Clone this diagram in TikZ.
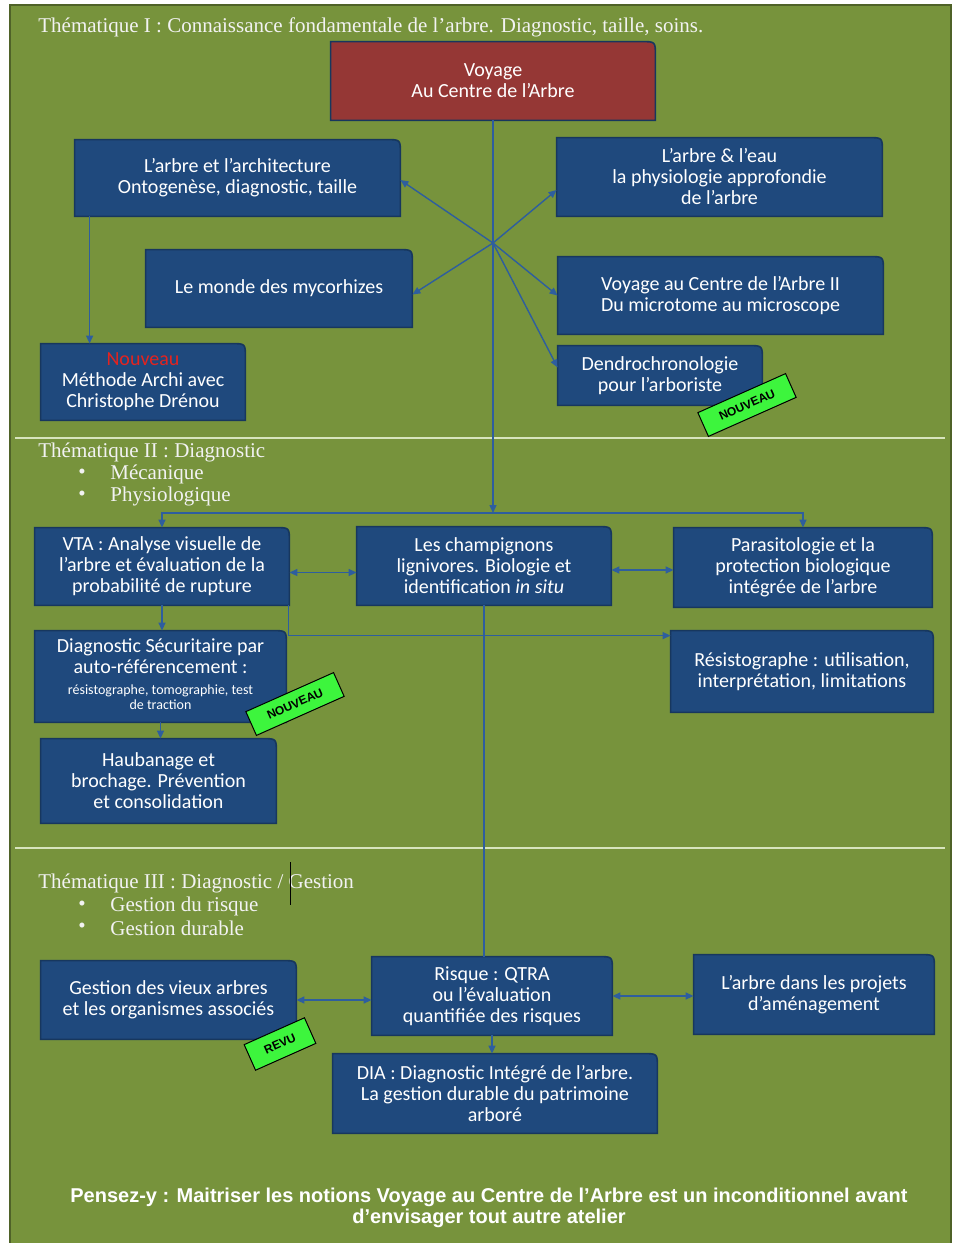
\documentclass[tikz,border=0pt]{standalone}
\usepackage{fontspec}
\setmainfont{Liberation Serif}
\newfontfamily\boxfont{Carlito}
\newfontfamily\footfont{Liberation Sans}
\usetikzlibrary{arrows.meta,backgrounds}
\definecolor{fondvert}{HTML}{77933C}
\definecolor{bordvert}{HTML}{4F6228}
\definecolor{boxbleu}{HTML}{1F497D}
\definecolor{boxrouge}{HTML}{953735}
\definecolor{boxbord}{HTML}{17375E}
\definecolor{fleche}{HTML}{2E5E9E}
\definecolor{sepvert}{HTML}{D7E4BD}
\definecolor{vertfluo}{HTML}{3DF53D}
\definecolor{rougenouv}{HTML}{E3231F}
\tikzset{
  atelier/.style={text=white, align=center, inner sep=2pt,
    font=\boxfont\fontsize{10}{10.5}\selectfont},
  tampon/.style={draw=black, fill=vertfluo, line width=0.5pt, rotate=24,
    font=\footfont\bfseries\fontsize{6}{6.5}\selectfont, inner sep=1pt},
  lien/.style={draw=fleche, line width=0.7pt},
  fl/.style={lien, -{Triangle[length=4pt,width=3.5pt]}},
  dfl/.style={lien, {Triangle[length=4pt,width=3.5pt]}-{Triangle[length=4pt,width=3.5pt]}},
  theme/.style={anchor=west, text=white!95!black, inner sep=0pt,
    font=\fontsize{10.5}{12}\selectfont},
  sep/.style={draw=sepvert, line width=0.8pt}
}
\begin{document}
\begin{tikzpicture}[x=0.5pt,y=-0.5pt]
  \useasboundingbox (0,0) rectangle (954,1243);
  %% Thematique I
  \node[theme] (themeA) at (38,27) {Thématique I : Connaissance fondamentale de l’arbre. Diagnostic, taille, soins.};
  \node[atelier, minimum width=162pt, minimum height=39pt] (voyage) at (493,81) {Voyage\\Au Centre de l’Arbre};
  \node[atelier, minimum width=162.5pt, minimum height=38pt] (archi) at (237.5,178) {L’arbre et l’architecture\\Ontogenèse, diagnostic, taille};
  \node[atelier, minimum width=162.5pt, minimum height=39pt] (eau) at (719.5,177) {L’arbre \& l’eau\\la physiologie approfondie\\de l’arbre};
  \node[atelier, minimum width=133pt, minimum height=38.5pt] (myco) at (279,288.5) {Le monde des mycorhizes};
  \node[atelier, minimum width=162.5pt, minimum height=38.5pt] (voyagedeux) at (720.5,295.5) {Voyage au Centre de l’Arbre II\\Du microtome au microscope};
  \node[atelier, minimum width=102pt, minimum height=38pt] (archinew) at (143,382) {\textcolor{rougenouv}{Nouveau}\\Méthode Archi avec\\Christophe Drénou};
  \node[atelier, minimum width=102pt, minimum height=29.5pt] (dendro) at (660,375.5) {Dendrochronologie\\pour l’arboriste};
  \coordinate (hub) at (voyage.south |- 0,243);
  %% Thematique II
  \draw[sep] (15,438) -- (945,438);
  \node[theme] (themeB) at (38,452) {Thématique II : Diagnostic};
  \node[theme] (puceB1) at (78,474) {•};
  \node[theme] (itemB1) at (110,474) {Mécanique};
  \node[theme] (puceB2) at (78,496) {•};
  \node[theme] (itemB2) at (110,496) {Physiologique};
  \node[atelier, minimum width=127pt, minimum height=38.5pt] (vta) at (162,566.5) {VTA : Analyse visuelle de\\l’arbre et évaluation de la\\probabilité de rupture};
  \node[atelier, minimum width=127pt, minimum height=39pt] (champ) at (484,566) {Les champignons\\lignivores. Biologie et\\identification \textit{in situ}};
  \node[atelier, minimum width=129pt, minimum height=39.5pt] (parasito) at (803,567.5) {Parasitologie et la\\protection biologique\\intégrée de l’arbre};
  \node[atelier, minimum width=125.5pt, minimum height=45.5pt] (securit) at (160.5,676.5) {Diagnostic Sécuritaire par\\auto-référencement :\\{\fontsize{7}{7.5}\selectfont\begin{tabular}[t]{@{}c@{}}résistographe, tomographie, test\\de traction\end{tabular}}};
  \node[atelier, minimum width=117.5pt, minimum height=42pt] (hauban) at (158.5,781) {Haubanage et\\brochage. Prévention\\et consolidation};
  \node[atelier, minimum width=131pt, minimum height=40.5pt] (resisto) at (802,671.5) {Résistographe : utilisation,\\interprétation, limitations};
  \coordinate (split) at (voyage.south |- 0,513);
  %% Thematique III
  \draw[sep] (15,848) -- (945,848);
  \node[theme] (themeC) at (38,883) {Thématique III : Diagnostic / Gestion};
  \draw[black, line width=0.4pt] (290,862) -- (290,905);
  \node[theme] (puceC1) at (78,906) {•};
  \node[theme] (itemC1) at (110,906) {Gestion du risque};
  \node[theme] (puceC2) at (78,928) {•};
  \node[theme] (itemC2) at (110,928) {Gestion durable};
  \node[atelier, minimum width=127.5pt, minimum height=39pt] (vieux) at (168.5,1000) {Gestion des vieux arbres\\et les organismes associés};
  \node[atelier, minimum width=120pt, minimum height=39pt] (risque) at (492,996) {Risque : QTRA\\ou l’évaluation\\quantifiée des risques};
  \node[atelier, minimum width=120pt, minimum height=39.5pt] (projets) at (814,994.5) {L’arbre dans les projets\\d’aménagement};
  \node[atelier, minimum width=162pt, minimum height=39.5pt] (dia) at (495,1093.5) {DIA : Diagnostic Intégré de l’arbre.\\La gestion durable du patrimoine\\arboré};
  %% pied de page
  \node[text=white, align=center, font=\footfont\bfseries\fontsize{10}{10.5}\selectfont] (pensez) at (489,1207.5) {Pensez-y : Maitriser les notions Voyage au Centre de l’Arbre est un inconditionnel avant\\d’envisager tout autre atelier};
  %% fond et cadres
  \begin{scope}[on background layer]
    \filldraw[fill=fondvert, draw=bordvert, line width=1.2pt] (10,5) rectangle (951,1250);
    \foreach \n/\col in {voyage/boxrouge, archi/boxbleu, eau/boxbleu, myco/boxbleu, voyagedeux/boxbleu,
        archinew/boxbleu, dendro/boxbleu, vta/boxbleu, champ/boxbleu, parasito/boxbleu, securit/boxbleu,
        hauban/boxbleu, resisto/boxbleu, vieux/boxbleu, risque/boxbleu, projets/boxbleu, dia/boxbleu}
      \filldraw[fill=\col, draw=boxbord, line width=0.8pt] (\n.south west) -- (\n.north west)
        -- ([xshift=-7pt]\n.north east) .. controls (\n.north east) .. ([yshift=-7pt]\n.north east)
        -- (\n.south east) -- cycle;
  \end{scope}
  %% fleches
  \draw[fl] (voyage.south) -- (split);
  \draw[fl] (hub) -- ([yshift=-1pt]archi.east);
  \draw[fl] (hub) -- ([yshift=-6.5pt]eau.west);
  \draw[fl] (hub) -- ([yshift=-3pt]myco.east);
  \draw[fl] (hub) -- (voyagedeux.west);
  \draw[fl] (hub) -- ([yshift=4pt]dendro.west);
  \draw[fl] ([xshift=7.5pt]archi.south west) -- ([xshift=7.5pt]archi.south west |- archinew.north);
  \draw[fl] (split) -| (vta.north);
  \draw[fl] (split) -| (parasito.north);
  \draw[dfl] ([yshift=-3pt]vta.east) -- ([yshift=-3pt]vta.east -| champ.west);
  \draw[dfl] ([yshift=-2pt]champ.east) -- ([yshift=-2pt]champ.east -| parasito.west);
  \draw[fl] (vta.south) -- (vta.south |- securit.north);
  \draw[fl] (securit.south) -- (securit.south |- hauban.north);
  \draw[fl] ([xshift=-0.5pt]vta.south east) |- ([yshift=-2.5pt]resisto.north west);
  \draw[lien] (champ.south) -- (champ.south |- risque.north);
  \draw[dfl] (vieux.east) -- (vieux.east -| risque.west);
  \draw[dfl] (risque.east) -- (risque.east -| projets.west);
  \draw[fl] (risque.south) -- (risque.south |- dia.north);
  %% tampons
  \node[tampon, minimum width=48pt, minimum height=13pt] (nouvA) at (747,405) {NOUVEAU};
  \node[tampon, minimum width=48pt, minimum height=13pt] (nouvB) at (295,704) {NOUVEAU};
  \node[tampon, minimum width=33pt, minimum height=14pt] (revu) at (280,1044) {REVU};
\end{tikzpicture}
\end{document}
